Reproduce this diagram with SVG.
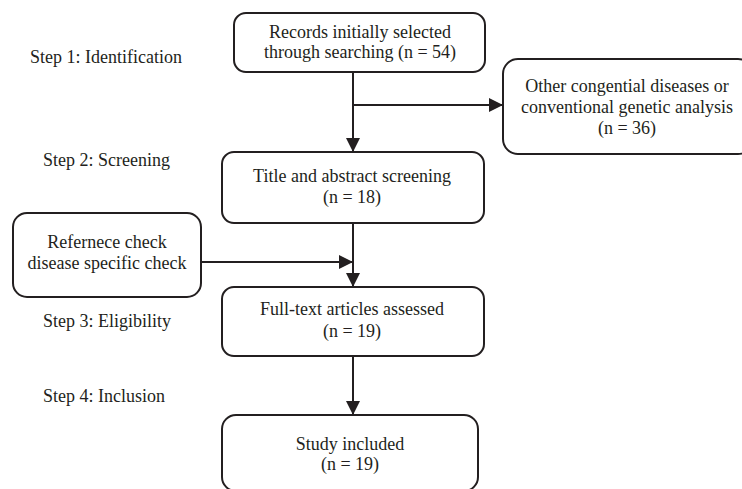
<svg xmlns="http://www.w3.org/2000/svg" width="742" height="489" viewBox="0 0 742 489">
<style>
.box{fill:#fff;stroke:#231f20;stroke-width:2}
.ln{fill:none;stroke:#231f20;stroke-width:2}
text{font-family:"Liberation Serif","Times New Roman",serif;font-size:18px;fill:#231f20}
.c{text-anchor:middle}
</style>
<defs>
<marker id="ah" viewBox="0 0 14 14" refX="14" refY="7" markerWidth="14" markerHeight="14" markerUnits="userSpaceOnUse" orient="auto">
<path d="M0,0 L14,7 L0,14 Z" fill="#231f20"/>
</marker>
</defs>
<rect width="742" height="489" fill="#fff"/>
<g id="labels">
<text x="30" y="63">Step 1: Identification</text>
<text x="43" y="166">Step 2: Screening</text>
<text x="43" y="327">Step 3: Eligibility</text>
<text x="43" y="402">Step 4: Inclusion</text>
</g>
<g id="connectors">
<path class="ln" d="M353,72 V152" marker-end="url(#ah)"/>
<path class="ln" d="M353,105 H503" marker-end="url(#ah)"/>
<path class="ln" d="M353,223 V287" marker-end="url(#ah)"/>
<path class="ln" d="M201,262 H353" marker-end="url(#ah)"/>
<path class="ln" d="M353,356 V415" marker-end="url(#ah)"/>
</g>
<g id="n1">
<rect class="box" x="234" y="13" width="251" height="59" rx="12"/>
<text class="c" x="360" y="38">Records initially selected</text>
<text class="c" x="360" y="58">through searching (n = 54)</text>
</g>
<g id="n2">
<rect class="box" x="503" y="59" width="250" height="95" rx="15"/>
<text class="c" x="627" y="92">Other congential diseases or</text>
<text class="c" x="627" y="113">conventional genetic analysis</text>
<text class="c" x="627" y="134">(n = 36)</text>
</g>
<g id="n3">
<rect class="box" x="222" y="152" width="262" height="71" rx="12"/>
<text class="c" x="352" y="182">Title and abstract screening</text>
<text class="c" x="352" y="203">(n = 18)</text>
</g>
<g id="n4">
<rect class="box" x="13" y="213" width="188" height="84" rx="14"/>
<text class="c" x="107" y="248">Refernece check</text>
<text class="c" x="107" y="269">disease specific check</text>
</g>
<g id="n5">
<rect class="box" x="222" y="287" width="262" height="69" rx="12"/>
<text class="c" x="352" y="315">Full-text articles assessed</text>
<text class="c" x="352" y="337">(n = 19)</text>
</g>
<g id="n6">
<rect class="box" x="222" y="415" width="256" height="76" rx="14"/>
<text class="c" x="350" y="450">Study included</text>
<text class="c" x="350" y="470">(n = 19)</text>
</g>
</svg>
